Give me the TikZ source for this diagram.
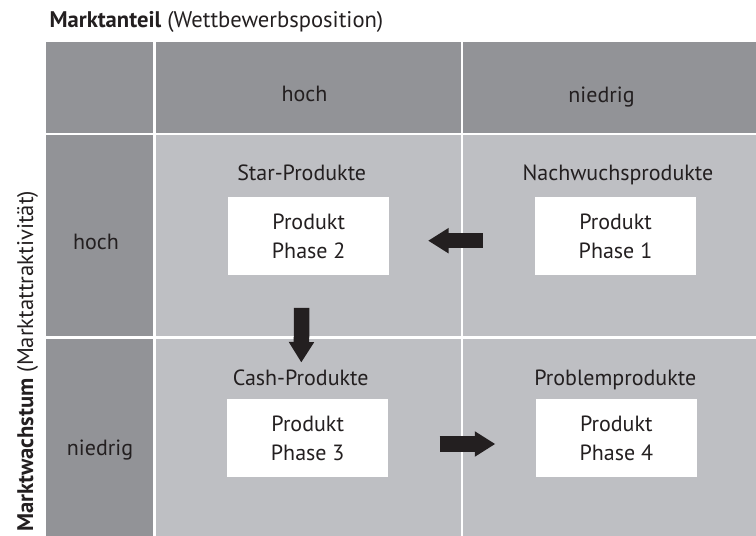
\documentclass[tikz,border=0pt]{standalone}
\usepackage{fontspec}
\setmainfont{PT Sans}
\usetikzlibrary{arrows.meta}
\definecolor{headgray}{RGB}{146,147,151}
\definecolor{bodygray}{RGB}{190,191,195}
\definecolor{ink}{RGB}{35,31,32}

\begin{document}
\begin{tikzpicture}[
    x=1pt, y=-1pt,
    every node/.style={font=\fontsize{22}{29}\selectfont, text=ink},
    lbl/.style={anchor=base},
    axis/.style={anchor=base west, font=\fontsize{22.6}{29}\selectfont},
    prod/.style={fill=white, minimum width=161pt, minimum height=78pt, align=center, inner sep=0pt},
    bigarr/.style={-{Triangle[length=20.5pt, width=24pt]}, line width=15.5pt, ink},
]
\useasboundingbox (0,0) rectangle (756,536);

% Header cells
\fill[headgray] (46,42) rectangle (153,132.7);
\fill[headgray] (155.5,42) rectangle (461,132.7);
\fill[headgray] (463,42) rectangle (756,132.7);
\fill[headgray] (46,135) rectangle (153,336);
\fill[headgray] (46,338.5) rectangle (153,536);

% Body cells
\fill[bodygray] (155.5,135) rectangle (461,336);
\fill[bodygray] (463,135) rectangle (756,336);
\fill[bodygray] (155.5,338.5) rectangle (461,536);
\fill[bodygray] (463,338.5) rectangle (756,536);

% Axis titles
\node[axis] (xtitle) at (46,27.3) {\textbf{Marktanteil} (Wettbewerbsposition)};
\node[axis, rotate=90] (ytitle) at (33,535) {\textbf{Marktwachstum} (Marktattraktivität)};

% Column and row labels
\node[lbl] (colhigh) at (304.5,101.7) {hoch};
\node[lbl] (collow) at (601.5,102) {niedrig};
\node[lbl] (rowhigh) at (96,249) {hoch};
\node[lbl] (rowlow) at (100,455) {niedrig};

% Quadrant names
\node[lbl] (star) at (301.7,180.7) {Star-Produkte};
\node[lbl] (young) at (618,180.7) {Nachwuchsprodukte};
\node[lbl] (cash) at (300.7,385) {Cash-Produkte};
\node[lbl] (problem) at (615.3,385) {Problemprodukte};

% Products
\node[prod] (p1) at (615.5,236) {Produkt\\Phase 1};
\node[prod] (p2) at (308.7,236) {Produkt\\Phase 2};
\node[prod] (p3) at (307.7,438) {Produkt\\Phase 3};
\node[prod] (p4) at (616.3,438) {Produkt\\Phase 4};

% Life cycle arrows
\draw[bigarr, shorten <=52.3pt, shorten >=38.7pt] ([yshift=-4.7pt]p1.west) -- ([yshift=-4.7pt]p2.east);
\draw[bigarr, shorten <=32.7pt, shorten >=36.3pt] ([xshift=-6.7pt]p2.south) -- ([xshift=-6.7pt]p3.north);
\draw[bigarr, shorten <=51.3pt, shorten >=40.3pt] ([yshift=-6pt]p3.east) -- ([yshift=-6pt]p4.west);

\end{tikzpicture}
\end{document}
